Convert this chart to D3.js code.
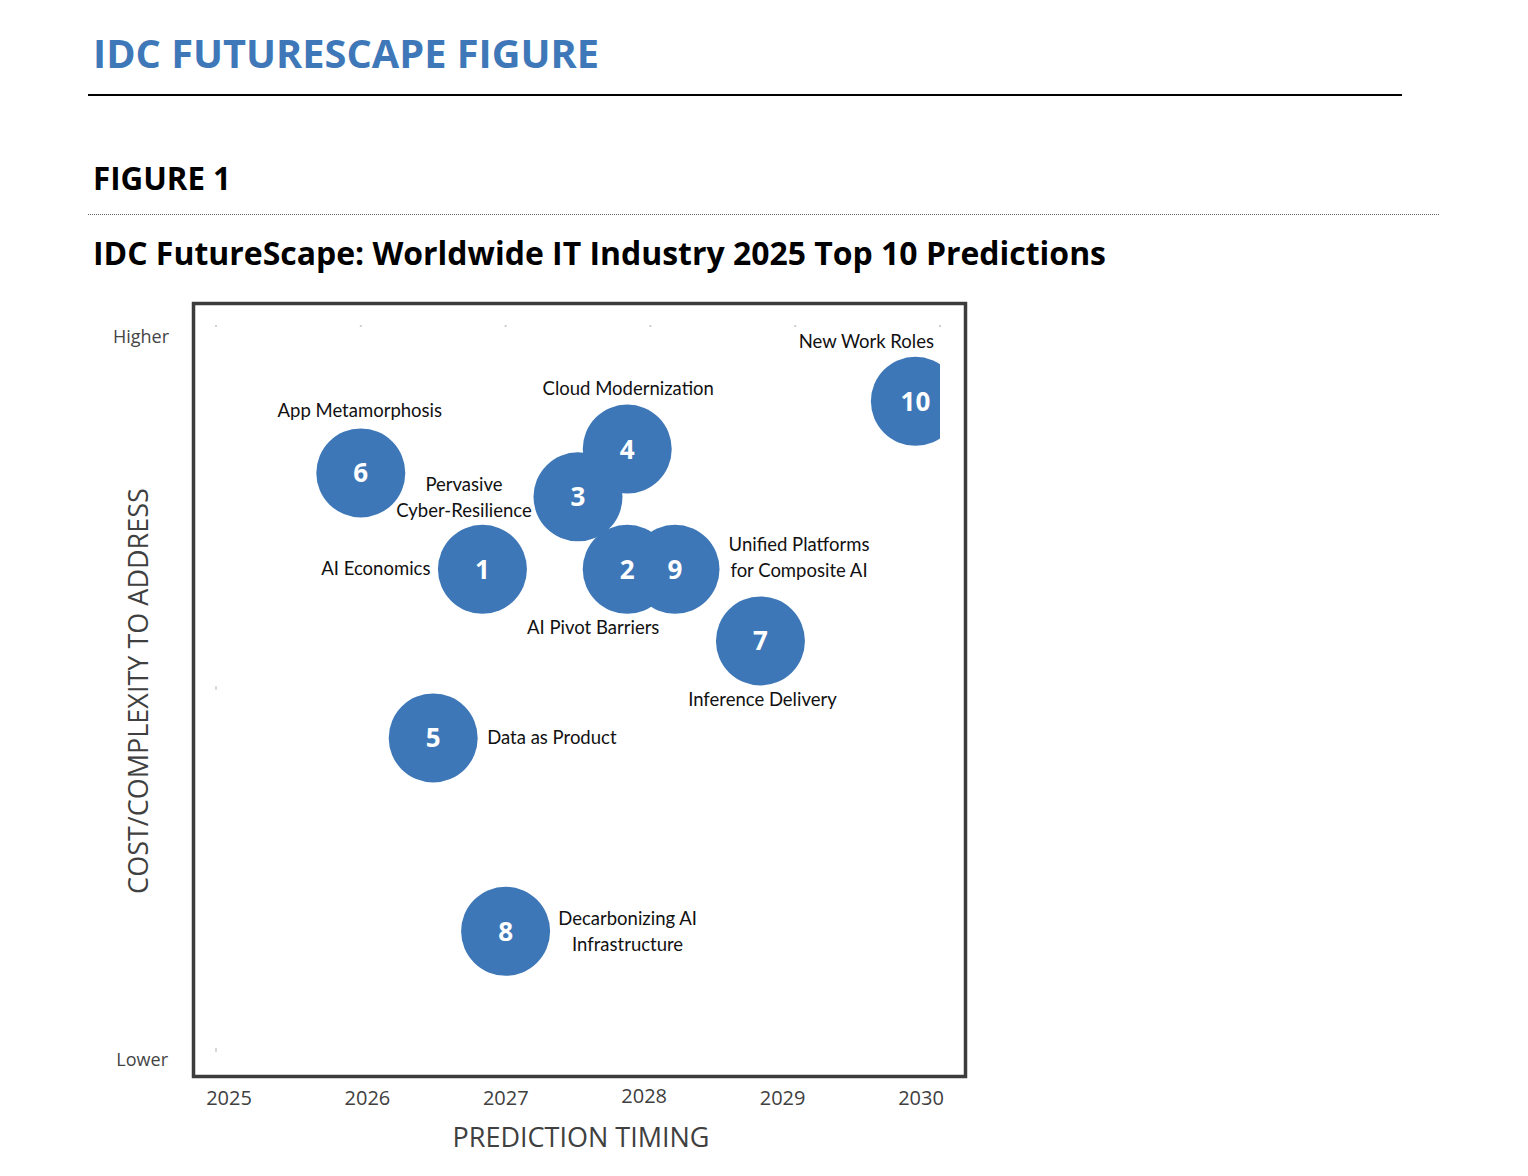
<!DOCTYPE html>
<html><head><meta charset="utf-8">
<script src="https://cdn.jsdelivr.net/npm/d3@7"></script>
<style>
body{margin:0;background:#fff;}
svg{display:block;}
</style></head>
<body>
<svg id="chart" width="1528" height="1176"></svg>
<script>
// ---- data ----
const ids = [1, 2, 3, 4, 5, 6, 7, 8, 9, 10];
const names = [
  ["AI Economics"],
  ["AI Pivot Barriers"],
  ["Pervasive", "Cyber-Resilience"],
  ["Cloud Modernization"],
  ["Data as Product"],
  ["App Metamorphosis"],
  ["Inference Delivery"],
  ["Decarbonizing AI", "Infrastructure"],
  ["Unified Platforms", "for Composite AI"],
  ["New Work Roles"]
];
const timing = [2026.84, 2027.84, 2027.5, 2027.84, 2026.5, 2026.0, 2028.76, 2027.0, 2028.17, 2029.83];
const complexity = [6.64, 6.64, 7.64, 8.3, 4.31, 7.97, 5.65, 1.64, 6.64, 8.96];
const yearLabels = ["2025", "2026", "2027", "2028", "2029", "2030"];
const yLevelLabels = ["Lower", "Higher"];

// label placement relative to bubble (in px offsets, anchor)
const labelPos = [
  {dx: -52, dy: 0, anchor: "end"},
  {dx: -34, dy: 59, anchor: "middle"},
  {dx: -114, dy: 1, anchor: "middle"},
  {dx: 1, dy: -60, anchor: "middle"},
  {dx: 54, dy: 0, anchor: "start"},
  {dx: -1, dy: -62, anchor: "middle"},
  {dx: 2, dy: 59, anchor: "middle"},
  {dx: 122, dy: 1, anchor: "middle"},
  {dx: 124, dy: -11, anchor: "middle"},
  {dx: -49, dy: -59, anchor: "middle"}
];

const svg = d3.select("#chart");
const blue = "#3e77b7";

// ---- header ----
svg.append("text").attr("x", 93).attr("y", 68)
  .attr("font-family", "Open Sans").attr("font-weight", 700).attr("font-size", 40)
  .attr("fill", "#3f78b8").attr("textLength", 506).attr("lengthAdjust", "spacingAndGlyphs")
  .text("IDC FUTURESCAPE FIGURE");
svg.append("line").attr("x1", 88).attr("x2", 1402).attr("y1", 95).attr("y2", 95)
  .attr("stroke", "#000").attr("stroke-width", 2);
svg.append("text").attr("x", 93).attr("y", 190)
  .attr("font-family", "Open Sans").attr("font-weight", 700).attr("font-size", 32)
  .attr("fill", "#000").attr("textLength", 138).attr("lengthAdjust", "spacingAndGlyphs")
  .text("FIGURE 1");
svg.append("line").attr("x1", 88).attr("x2", 1440).attr("y1", 214.5).attr("y2", 214.5)
  .attr("stroke", "#666").attr("stroke-width", 1).attr("stroke-dasharray", "1,1");
svg.append("text").attr("x", 93).attr("y", 265)
  .attr("font-family", "Open Sans").attr("font-weight", 700).attr("font-size", 32)
  .attr("fill", "#000").attr("textLength", 1013).attr("lengthAdjust", "spacingAndGlyphs")
  .text("IDC FutureScape: Worldwide IT Industry 2025 Top 10 Predictions");

// ---- plot ----
const plot = {left: 216, right: 940, top: 326, bottom: 1050};
const x = d3.scaleLinear().domain([2025, 2030]).range([plot.left, plot.right]);
const y = d3.scaleLinear().domain([0, 10]).range([plot.bottom, plot.top]);
const r = 44.5;

// frame
svg.append("rect").attr("x", 193.5).attr("y", 303.5).attr("width", 772).attr("height", 773)
  .attr("fill", "none").attr("stroke", "#3c3c3c").attr("stroke-width", 3.5);

// faint tick marks (gridline remnants)
const gx = svg.append("g");
x.ticks(5).forEach(t => {
  gx.append("rect").attr("x", x(t) - 1).attr("y", plot.top - 1).attr("width", 2).attr("height", 2)
    .attr("fill", "#d0d0d0");
});
[0, 5].forEach(t => {
  gx.append("rect").attr("x", plot.left - 1).attr("y", y(t) - 2).attr("width", 2).attr("height", 4)
    .attr("fill", "#d8d8d8");
});

svg.append("clipPath").attr("id", "clip").append("rect")
  .attr("x", plot.left - 60).attr("y", plot.top - 30)
  .attr("width", plot.right - plot.left + 60).attr("height", plot.bottom - plot.top + 60);

const data = ids.map((id, i) => ({id, name: names[i], t: timing[i], c: complexity[i], lp: labelPos[i]}));

// draw order so overlapping matches
const order = [6, 4, 3, 1, 2, 9, 7, 5, 8, 10];
const bubbles = svg.append("g").attr("clip-path", "url(#clip)");
order.forEach(id => {
  const d = data[id - 1];
  bubbles.append("circle").attr("cx", x(d.t)).attr("cy", y(d.c)).attr("r", r).attr("fill", blue);
});
order.forEach(id => {
  const d = data[id - 1];
  bubbles.append("text").attr("x", x(d.t)).attr("y", y(d.c) + 9.5)
    .attr("text-anchor", "middle").attr("font-family", "Open Sans").attr("font-weight", 700)
    .attr("font-size", 26).attr("fill", "#fff").text(d.id);
});

// labels
const lab = svg.append("g").attr("font-family", "Lato").attr("font-size", 18.5).attr("fill", "#111");
data.forEach(d => {
  const cx = x(d.t) + d.lp.dx, cy = y(d.c) + d.lp.dy;
  const n = d.name.length;
  d.name.forEach((line, k) => {
    lab.append("text").attr("x", cx).attr("y", cy + 6 + (k - (n - 1) / 2) * 26)
      .attr("text-anchor", d.lp.anchor).text(line);
  });
});

// axes labels
const yl = svg.append("g").attr("font-family", "Open Sans").attr("font-size", 18).attr("fill", "#444");
yl.append("text").attr("x", 168).attr("y", y(0) + 16).attr("text-anchor", "end").text(yLevelLabels[0]);
yl.append("text").attr("x", 169).attr("y", y(10) + 17).attr("text-anchor", "end").text(yLevelLabels[1]);

const xp = d3.scalePoint().domain(yearLabels).range([229, 921]);
const xl = svg.append("g").attr("font-family", "Open Sans").attr("font-size", 20).attr("fill", "#404040");
yearLabels.forEach(yr => {
  xl.append("text").attr("x", xp(yr)).attr("y", yr === "2028" ? 1103 : 1105)
    .attr("text-anchor", "middle").text(yr);
});

svg.append("text").attr("x", 581).attr("y", 1147).attr("text-anchor", "middle")
  .attr("font-family", "Open Sans").attr("font-size", 27).attr("fill", "#404040")
  .text("PREDICTION TIMING");
svg.append("text").attr("transform", "translate(148,691) rotate(-90)").attr("text-anchor", "middle")
  .attr("font-family", "Open Sans").attr("font-size", 27).attr("fill", "#404040")
  .text("COST/COMPLEXITY TO ADDRESS");
</script>
</body></html>
